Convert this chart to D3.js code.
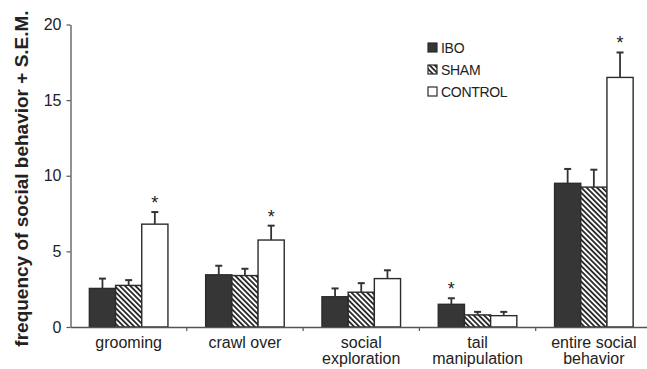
<!DOCTYPE html>
<html>
<head>
<meta charset="utf-8">
<script src="https://cdn.jsdelivr.net/npm/d3@7/dist/d3.min.js"></script>
<style>
  html, body { margin: 0; padding: 0; background: #fff; }
  svg { display: block; font-family: "Liberation Sans", Arial, sans-serif; }
</style>
</head>
<body>
<svg id="chart" width="647" height="369"></svg>
<script>
// Behaviour categories (multi-line labels)
const categories = ["grooming", "crawl over", "social exploration", "tail manipulation", "entire social behavior"];
const categoryLines = [["grooming"], ["crawl over"], ["social", "exploration"], ["tail", "manipulation"], ["entire social", "behavior"]];
const groups = ["IBO", "SHAM", "CONTROL"];

// Mean frequency per group
const iboMean     = [2.55, 3.45, 2.0, 1.5, 9.5];
const shamMean    = [2.75, 3.4, 2.3, 0.8, 9.25];
const controlMean = [6.8, 5.75, 3.2, 0.75, 16.5];

// Standard error of the mean per group
const iboSem     = [0.65, 0.6, 0.55, 0.4, 0.95];
const shamSem    = [0.35, 0.45, 0.6, 0.2, 1.15];
const controlSem = [0.8, 0.95, 0.55, 0.25, 1.65];

// Significant differences (group marked with an asterisk)
const significant = [
  { category: "grooming", group: "CONTROL" },
  { category: "crawl over", group: "CONTROL" },
  { category: "tail manipulation", group: "IBO" },
  { category: "entire social behavior", group: "CONTROL" }
];

const yTicks = [0, 5, 10, 15, 20];
const yTitle = "frequency of social behavior + S.E.M.";

const means = { IBO: iboMean, SHAM: shamMean, CONTROL: controlMean };
const sems = { IBO: iboSem, SHAM: shamSem, CONTROL: controlSem };

const data = [];
categories.forEach((c, i) => {
  groups.forEach(g => {
    data.push({ category: c, group: g, mean: means[g][i], sem: sems[g][i],
      sig: significant.some(s => s.category === c && s.group === g) });
  });
});

const svg = d3.select("#chart");
const axisColor = "#555";
const ink = "#222";

// Hatch pattern for SHAM
const defs = svg.append("defs");
const pat = defs.append("pattern")
  .attr("id", "hatch")
  .attr("patternUnits", "userSpaceOnUse")
  .attr("width", 3.7).attr("height", 3.7)
  .attr("patternTransform", "rotate(-45)");
pat.append("rect").attr("width", 3.7).attr("height", 3.7).attr("fill", "#fff");
pat.append("rect").attr("x", 0).attr("width", 1.8).attr("height", 3.7).attr("fill", "#262626");

const fills = { IBO: "#363636", SHAM: "url(#hatch)", CONTROL: "#fff" };

const x0 = d3.scaleBand().domain(categories).range([70.5, 652]).paddingInner(0).paddingOuter(0);
const x1 = d3.scaleBand().domain(groups).range([0, x0.bandwidth()]).paddingInner(0).paddingOuter(0.72);
const y = d3.scaleLinear().domain([0, 20]).range([327, 24.5]);

// Y axis
const yAxis = svg.append("g")
  .attr("transform", `translate(${x0.range()[0]},0)`)
  .call(d3.axisLeft(y).tickValues(yTicks).tickSize(4).tickPadding(5).tickSizeOuter(0));
yAxis.select(".domain").attr("stroke", axisColor).attr("stroke-width", 1.3);
yAxis.selectAll(".tick line").attr("stroke", axisColor).attr("stroke-width", 1.2);
yAxis.selectAll(".tick text").attr("font-size", 16).attr("fill", ink).attr("font-family", "Liberation Sans, Arial, sans-serif");

// Y axis title
svg.append("text")
  .attr("transform", `translate(28,${(10 + 347) / 2}) rotate(-90)`)
  .attr("text-anchor", "middle")
  .attr("font-size", 19)
  .attr("font-weight", "bold")
  .attr("fill", ink)
  .text(yTitle);

// Bars
const barG = svg.append("g");
barG.selectAll("rect.bar")
  .data(data)
  .join("rect")
  .attr("class", "bar")
  .attr("x", d => x0(d.category) + x1(d.group))
  .attr("y", d => y(d.mean))
  .attr("width", x1.bandwidth())
  .attr("height", d => y(0) - y(d.mean))
  .attr("fill", d => fills[d.group])
  .attr("stroke", "#2b2b2b")
  .attr("stroke-width", 1.4);

// Error bars (upper whisker only)
const errG = svg.append("g").attr("stroke", "#333").attr("stroke-width", 1.8);
errG.selectAll("line.whisker")
  .data(data)
  .join("line")
  .attr("x1", d => x0(d.category) + x1(d.group) + x1.bandwidth() / 2)
  .attr("x2", d => x0(d.category) + x1(d.group) + x1.bandwidth() / 2)
  .attr("y1", d => y(d.mean))
  .attr("y2", d => y(d.mean + d.sem));
errG.selectAll("line.cap")
  .data(data)
  .join("line")
  .attr("x1", d => x0(d.category) + x1(d.group) + x1.bandwidth() / 2 - 3.5)
  .attr("x2", d => x0(d.category) + x1(d.group) + x1.bandwidth() / 2 + 3.5)
  .attr("y1", d => y(d.mean + d.sem))
  .attr("y2", d => y(d.mean + d.sem))
  .attr("stroke-width", 2);

// Significance asterisks
svg.append("g").selectAll("text")
  .data(data.filter(d => d.sig))
  .join("text")
  .attr("x", d => x0(d.category) + x1(d.group) + x1.bandwidth() / 2)
  .attr("y", d => y(d.mean + d.sem) - 3)
  .attr("text-anchor", "middle")
  .attr("font-size", 18)
  .attr("fill", ink)
  .text("*");

// X axis: baseline, boundary ticks and category labels
const xAxis = svg.append("g")
  .attr("transform", `translate(0,${y(0)})`)
  .call(d3.axisBottom(x0).tickSize(0).tickPadding(0).tickSizeOuter(0));
xAxis.select(".domain").attr("stroke", axisColor).attr("stroke-width", 1.3);
xAxis.selectAll(".tick text").remove();
xAxis.selectAll(".tick").each(function(d, i) {
  const t = d3.select(this).append("text")
    .attr("text-anchor", "middle")
    .attr("font-size", 16)
    .attr("fill", ink)
    .attr("font-family", "Liberation Sans, Arial, sans-serif");
  categoryLines[i].forEach((line, k) => {
    t.append("tspan").attr("x", 0).attr("y", 21 + k * 16).text(line);
  });
});
xAxis.selectAll("line.boundary")
  .data(categories.slice(1))
  .join("line")
  .attr("class", "boundary")
  .attr("x1", d => x0(d)).attr("x2", d => x0(d))
  .attr("y1", 0).attr("y2", 4)
  .attr("stroke", axisColor).attr("stroke-width", 1.2);

// Legend
const legend = svg.append("g").attr("transform", "translate(428,43)");
groups.forEach((g, i) => {
  const row = legend.append("g").attr("transform", `translate(0,${i * 22})`);
  row.append("rect").attr("width", 9).attr("height", 9)
    .attr("fill", fills[g]).attr("stroke", "#2b2b2b").attr("stroke-width", 1.2);
  row.append("text").attr("x", 13).attr("y", 10)
    .attr("font-size", 14).attr("fill", ink)
    .attr("letter-spacing", -0.3)
    .text(g);
});
</script>
</body>
</html>
